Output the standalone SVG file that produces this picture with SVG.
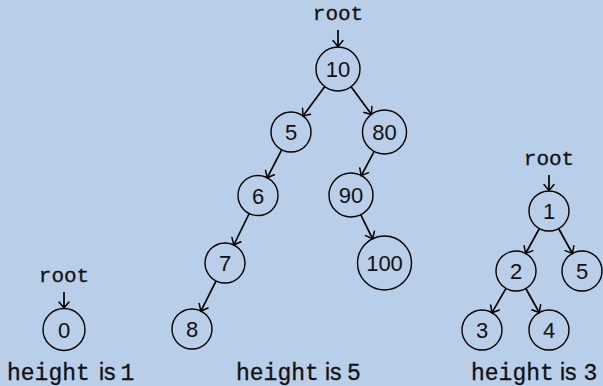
<svg xmlns="http://www.w3.org/2000/svg" width="603" height="386" viewBox="0 0 603 386">
<defs>
<marker id="arr" viewBox="-8 -7 9 14" markerWidth="9" markerHeight="14" refX="0" refY="0" orient="auto" markerUnits="userSpaceOnUse" overflow="visible">
<path d="M-6,-5 Q-1.6,-1.3 0,0 Q-1.6,1.3 -6,5" fill="none" stroke="#000" stroke-width="1.5" stroke-linecap="round"/>
</marker>
<style>
.n circle{fill:none;stroke:#000;stroke-width:1.4}
.n text{font-family:"Liberation Sans","DejaVu Sans",sans-serif;font-size:22px;text-anchor:middle;fill:#111}
.e line{stroke:#000;stroke-width:1.7;marker-end:url(#arr)}
.mono{font-family:"Liberation Mono","DejaVu Sans Mono",monospace}
.root{font-family:"Liberation Mono","DejaVu Sans Mono",monospace;font-size:21px;text-anchor:middle;fill:#111;stroke:#111;stroke-width:0.3}
.lab{font-size:23px;fill:#111;stroke:#111;stroke-width:0.3}
.sans{font-family:"Liberation Sans","DejaVu Sans",sans-serif}
.dig{text-anchor:middle}
</style>
</defs>
<rect width="603" height="386" fill="#b8cee9"/>
<g id="labels">
<text class="root" x="338" y="20">root</text>
<text class="root" x="64" y="282">root</text>
<text class="root" x="549" y="165">root</text>
<text class="lab" y="380"><tspan class="mono" x="7">height</tspan><tspan class="sans" x="99">is</tspan><tspan class="mono dig" x="127.5">1</tspan></text>
<text class="lab" y="380"><tspan class="mono" x="236">height</tspan><tspan class="sans" x="325">is</tspan><tspan class="mono dig" x="354">5</tspan></text>
<text class="lab" y="380"><tspan class="mono" x="471">height</tspan><tspan class="sans" x="560">is</tspan><tspan class="mono dig" x="590.5">3</tspan></text>
</g>
<g id="connectors" class="e">
<line x1="338" y1="30" x2="338" y2="46.5"/>
<line x1="64" y1="292" x2="64" y2="308"/>
<line x1="549" y1="175" x2="549" y2="190.5"/>
<line x1="324.8" y1="86.6" x2="303.0" y2="116.0"/>
<line x1="351.1" y1="86.7" x2="371.4" y2="114.3"/>
<line x1="281.8" y1="149.7" x2="267.2" y2="177.8"/>
<line x1="249.2" y1="213.5" x2="233.8" y2="245"/>
<line x1="216.1" y1="280.9" x2="200.9" y2="311.1"/>
<line x1="374.2" y1="151.4" x2="361.3" y2="175.6"/>
<line x1="360.7" y1="214.7" x2="372.6" y2="238.8"/>
<line x1="539.4" y1="228.5" x2="525.6" y2="253.5"/>
<line x1="558.6" y1="228.5" x2="572.4" y2="253.5"/>
<line x1="506" y1="288.3" x2="492" y2="312.7"/>
<line x1="525.8" y1="288.5" x2="539.2" y2="312.5"/>
</g>
<g id="n10" class="n"><circle cx="338" cy="69" r="22"/><text x="338" y="77">10</text></g>
<g id="n5" class="n"><circle cx="291" cy="132" r="20"/><text x="291" y="140">5</text></g>
<g id="n80" class="n"><circle cx="384.5" cy="132" r="22"/><text x="384.5" y="140">80</text></g>
<g id="n6" class="n"><circle cx="258" cy="195.5" r="20"/><text x="258" y="203.5">6</text></g>
<g id="n90" class="n"><circle cx="351" cy="195" r="22"/><text x="351" y="203">90</text></g>
<g id="n7" class="n"><circle cx="225" cy="263" r="20"/><text x="225" y="271">7</text></g>
<g id="n100" class="n"><circle cx="384.5" cy="263" r="27"/><text x="384.5" y="271">100</text></g>
<g id="n8" class="n"><circle cx="192" cy="329" r="20"/><text x="192" y="337">8</text></g>
<g id="n0" class="n"><circle cx="64" cy="329.5" r="21"/><text x="64" y="337.5">0</text></g>
<g id="n1" class="n"><circle cx="549" cy="211" r="20"/><text x="549" y="219">1</text></g>
<g id="n2" class="n"><circle cx="516" cy="271" r="20"/><text x="516" y="279">2</text></g>
<g id="n5b" class="n"><circle cx="582" cy="271" r="20"/><text x="582" y="279">5</text></g>
<g id="n3" class="n"><circle cx="482" cy="330" r="20"/><text x="482" y="338">3</text></g>
<g id="n4" class="n"><circle cx="549" cy="330" r="20"/><text x="549" y="338">4</text></g>
</svg>
